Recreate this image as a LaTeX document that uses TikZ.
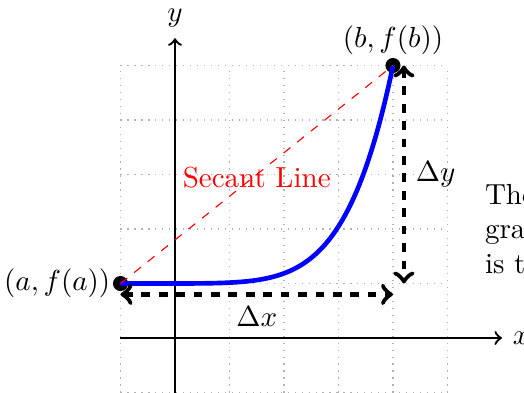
\documentclass[tikz,border=0pt]{standalone}
\usetikzlibrary{positioning}

\tikzset{
    gridline/.style={gray!60, dotted},
    axis/.style={thick, ->},
    curve/.style={blue, ultra thick},
    secant/.style={red, dashed},
    measure/.style={ultra thick, dashed, <->},
    dot/.style={circle, fill=black, inner sep=0pt, minimum size=5.2pt}
}

\begin{document}
\begin{tikzpicture}[scale=0.66]
    % Parameters
    \def\xmin{-1} % Left end of the grid
    \def\xmax{5} % Right end of the grid
    \def\ymin{-1} % Bottom of the grid
    \def\ymax{5} % Top of the grid

    % Fix the margins
    \useasboundingbox (-3.211,-1.009) rectangle (6.404,6.202);

    % Draw the grid
    \draw[gridline] (\xmin,\ymin) grid (\xmax,\ymax);

    % Axes
    \coordinate (xstart) at (\xmin,0);
    \coordinate (xend) at (6,0);
    \coordinate (ystart) at (0,\ymin);
    \coordinate (yend) at (0,5.5);
    \draw[axis] (xstart) -- (xend) node[right] {$x$};
    \draw[axis] (ystart) -- (yend) node[above] {$y$};

    % End points of the curve
    \node[dot] (pa) at (-1,1) {};
    \node[dot] (pb) at (4,5) {};
    \node[left] (palabel) at (pa.center) {$(a, f(a))$};
    \node[above] (pblabel) at (pb.center) {$(b, f(b))$};

    % Draw the curve
    \draw[curve] plot[domain=-1:4, samples=120] (\x, {1+4*((\x+1)/5)^6});

    % Secant line
    \node[red] (seclabel) at (1.5,2.95) {Secant Line};
    \draw[secant] (pa.center) -- (pb.center);

    % Add arrows for the changes
    \coordinate (dxleft) at (-1,0.8);
    \coordinate (dxright) at (4,0.8);
    \coordinate (dytop) at (4.2,5);
    \coordinate (dybottom) at (4.2,1);
    \draw[measure] (dxleft) -- (dxright) node[midway, below] (dxlabel) {$\Delta x$};
    \draw[measure] (dytop) -- (dybottom) node[midway, right] (dylabel) {$\Delta y$};

    % Add text at the side
    \node[right, align=left] (note) at (5.5,2) {The\\graph\\is the};
\end{tikzpicture}
\end{document}
